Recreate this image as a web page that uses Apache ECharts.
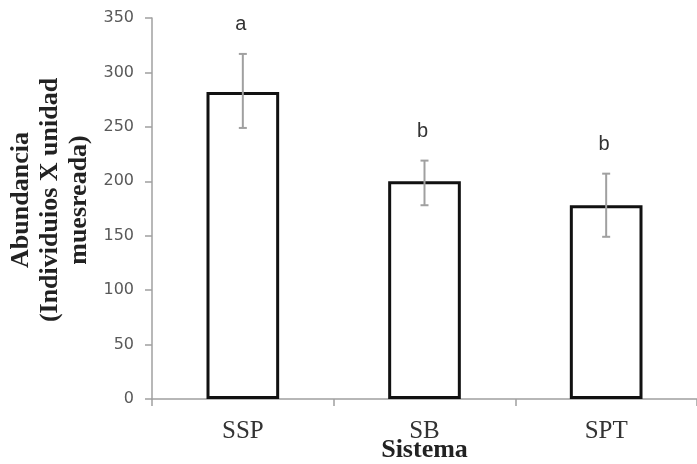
<!DOCTYPE html>
<html>
<head>
<meta charset="utf-8">
<script src="https://cdn.jsdelivr.net/npm/echarts@6/dist/echarts.min.js"></script>
<style>html,body{margin:0;padding:0;background:#fff}#c{width:697px;height:464px}</style>
</head>
<body>
<div id="c"></div>
<script>
const categories = ['SSP', 'SB', 'SPT'];
const means = [282, 200, 178];
const errLow = [249, 178, 149];
const errHigh = [317, 219, 207];
const letters = ['a', 'b', 'b'];
const yTicks = [0, 50, 100, 150, 200, 250, 300, 350];

const chart = echarts.init(document.getElementById('c'), null, {renderer: 'canvas'});
const errData = categories.map((c, i) => [i, errLow[i], errHigh[i]]);

chart.setOption({
  animation: false,
  backgroundColor: '#fff',
  grid: {left: 152, right: 0, top: 18, bottom: 65, containLabel: false, outerBoundsMode: 'none'},
  xAxis: {
    type: 'category',
    data: categories,
    axisLine: {lineStyle: {color: '#a0a0a0', width: 1.5}},
    axisTick: {show: true, length: 7, lineStyle: {color: '#a0a0a0', width: 1.5}},
    axisLabel: {color: '#333', fontFamily: '"Liberation Serif", serif', fontSize: 25, margin: 20},
    name: 'Sistema',
    nameLocation: 'middle',
    nameGap: 38,
    nameMoveOverlap: false,
    nameTextStyle: {color: '#222', fontFamily: '"Liberation Serif", serif', fontWeight: 'bold', fontSize: 26}
  },
  yAxis: {
    type: 'value',
    min: yTicks[0],
    max: yTicks[yTicks.length - 1],
    interval: 50,
    splitLine: {show: false},
    axisLine: {show: true, lineStyle: {color: '#a0a0a0', width: 1.5}},
    axisTick: {show: true, length: 7, lineStyle: {color: '#a0a0a0', width: 1.5}},
    axisLabel: {color: '#595959', fontFamily: '"DejaVu Sans", sans-serif', fontSize: 16, margin: 18}
  },
  graphic: [{
    type: 'text',
    x: 50, y: 200,
    rotation: Math.PI / 2,
    style: {
      text: 'Abundancia\n(Individuios X unidad\nmuesreada)',
      font: 'bold 26px "Liberation Serif", serif',
      textAlign: 'center',
      textVerticalAlign: 'middle',
      lineHeight: 29,
      fill: '#222'
    }
  }],
  series: [
    {
      type: 'bar',
      data: means,
      barWidth: '40%',
      itemStyle: {color: '#fff', borderColor: '#111', borderWidth: 3},
      z: 2
    },
    {
      type: 'custom',
      data: errData,
      encode: {x: 0, y: [1, 2]},
      z: 5,
      renderItem: function (params, api) {
        const i = api.value(0);
        const lo = api.coord([i, api.value(1)]);
        const hi = api.coord([i, api.value(2)]);
        const x = lo[0];
        const cap = 4;
        const st = {stroke: '#a0a0a0', lineWidth: 2};
        return {
          type: 'group',
          children: [
            {type: 'line', shape: {x1: x, y1: lo[1], x2: x, y2: hi[1]}, style: st},
            {type: 'line', shape: {x1: x - cap, y1: lo[1], x2: x + cap, y2: lo[1]}, style: st},
            {type: 'line', shape: {x1: x - cap, y1: hi[1], x2: x + cap, y2: hi[1]}, style: st},
            {type: 'text', x: x - 2, y: hi[1] - 19,
              style: {text: letters[params.dataIndex], font: '20px "Liberation Sans", sans-serif',
                fill: '#333', textAlign: 'center', textVerticalAlign: 'bottom'}}
          ]
        };
      }
    }
  ]
});
</script>
</body>
</html>
